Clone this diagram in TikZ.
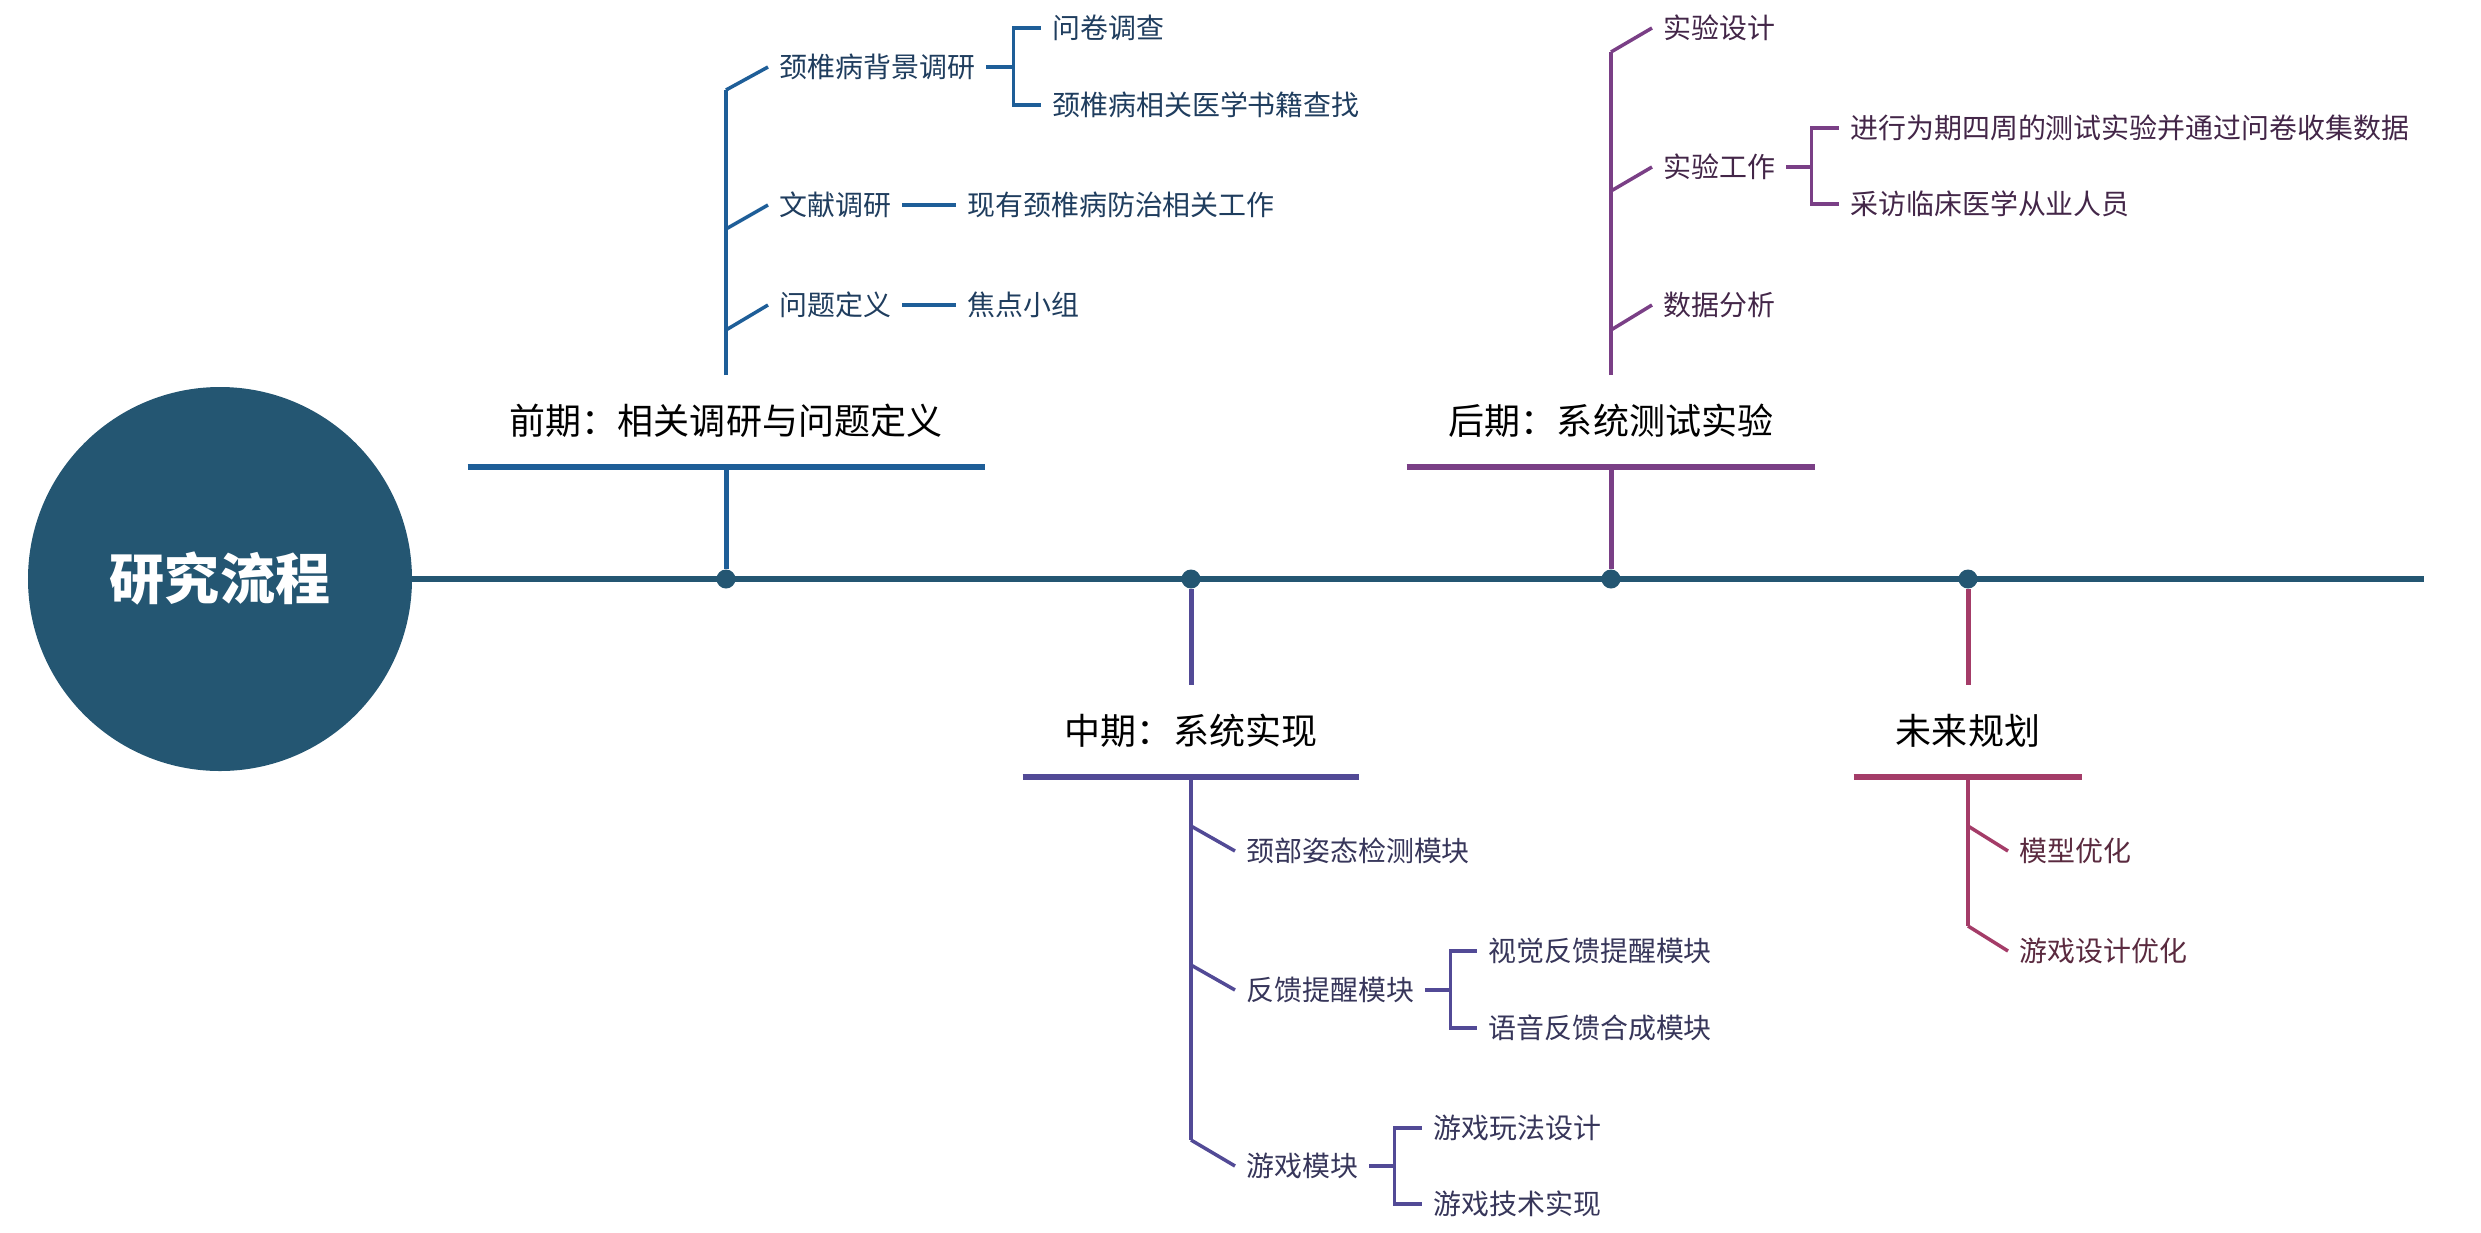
\documentclass[tikz,border=0pt]{standalone}
\usepackage{fontspec}
\setmainfont{Noto Sans CJK SC}

\definecolor{flowbase}{HTML}{245672}
\definecolor{earlyc}{HTML}{1E5E98}
\definecolor{earlyt}{HTML}{1F3D5E}
\definecolor{midc}{HTML}{524A96}
\definecolor{midt}{HTML}{37365A}
\definecolor{latec}{HTML}{7A3F86}
\definecolor{latet}{HTML}{432648}
\definecolor{futc}{HTML}{A43C68}
\definecolor{futt}{HTML}{5A2A3F}

\begin{document}
\begin{tikzpicture}[
    x=0.2mm, y=-0.2mm,
    mainline/.style={line width=1.05mm, draw=flowbase},
    stemline/.style={line width=1mm},
    barline/.style={line width=1.25mm},
    spineline/.style={line width=0.9mm},
    subline/.style={line width=0.7mm},
    joint/.style={circle, fill=flowbase, inner sep=0pt, minimum size=3.8mm},
    phase/.style={font=\fontsize{20.5}{24}\selectfont, inner xsep=8.4mm, inner ysep=0pt, minimum height=18.2mm},
    item/.style={font=\fontsize{15.9}{19}\selectfont, anchor=west, inner xsep=2.2mm, inner ysep=0pt}
    ]

    \useasboundingbox (0,0) rectangle (2481,1232);

    \node[circle, fill=flowbase, minimum size=76.8mm, text=white,
          font=\fontsize{31.3}{36}\selectfont\bfseries] (T) at (220,579) {研究流程};
    \coordinate (E) at (2424,579);
    \draw[mainline] (T) -- (E);

    \node[joint] (D1) at (726,579) {};
    \node[joint] (D2) at (1191,579) {};
    \node[joint] (D3) at (1611,579) {};
    \node[joint] (D4) at (1968,579) {};

    % early phase
    \node[phase] (P1) at (726,421) {前期：相关调研与问题定义};
    \coordinate (S1a) at (726,90);
    \coordinate (S1b) at (726,229);
    \coordinate (S1c) at (726,330);
    \node[item, text=earlyt] (A1) at (768,67) {颈椎病背景调研};
    \node[item, text=earlyt] (A2) at (768,205) {文献调研};
    \node[item, text=earlyt] (A3) at (768,305) {问题定义};
    \node[item, text=earlyt] (A11) at (1041,28) {问卷调查};
    \node[item, text=earlyt] (A12) at (1041,105) {颈椎病相关医学书籍查找};
    \node[item, text=earlyt] (A21) at (956,205) {现有颈椎病防治相关工作};
    \node[item, text=earlyt] (A31) at (956,305) {焦点小组};

    \draw[stemline, earlyc] (D1) -- (P1.south);
    \draw[barline, earlyc] (P1.south west) -- (P1.south east);
    \draw[spineline, earlyc] (P1.north) -- (S1a);
    \draw[subline, earlyc] (S1a) -- (A1.west);
    \draw[subline, earlyc] (S1b) -- (A2.west);
    \draw[subline, earlyc] (S1c) -- (A3.west);
    \draw[subline, earlyc] (A1.east) -- ++(27,0) |- (A11.west);
    \draw[subline, earlyc] (A1.east) ++(27,0) |- (A12.west);
    \draw[subline, earlyc] (A2.east) -- (A21.west);
    \draw[subline, earlyc] (A3.east) -- (A31.west);

    % middle phase
    \node[phase] (P2) at (1191,731) {中期：系统实现};
    \coordinate (S2a) at (1191,826);
    \coordinate (S2b) at (1191,965);
    \coordinate (S2c) at (1191,1140);
    \node[item, text=midt] (B1) at (1235,851) {颈部姿态检测模块};
    \node[item, text=midt] (B2) at (1235,990) {反馈提醒模块};
    \node[item, text=midt] (B3) at (1235,1166) {游戏模块};
    \node[item, text=midt] (B21) at (1477,951) {视觉反馈提醒模块};
    \node[item, text=midt] (B22) at (1477,1028) {语音反馈合成模块};
    \node[item, text=midt] (B31) at (1422,1128) {游戏玩法设计};
    \node[item, text=midt] (B32) at (1422,1204) {游戏技术实现};

    \draw[stemline, midc] (D2) -- (P2.north);
    \draw[barline, midc] (P2.south west) -- (P2.south east);
    \draw[spineline, midc] (P2.south) -- (S2c);
    \draw[subline, midc] (S2a) -- (B1.west);
    \draw[subline, midc] (S2b) -- (B2.west);
    \draw[subline, midc] (S2c) -- (B3.west);
    \draw[subline, midc] (B2.east) -- ++(25,0) |- (B21.west);
    \draw[subline, midc] (B2.east) ++(25,0) |- (B22.west);
    \draw[subline, midc] (B3.east) -- ++(25,0) |- (B31.west);
    \draw[subline, midc] (B3.east) ++(25,0) |- (B32.west);

    % late phase
    \node[phase] (P3) at (1611,421) {后期：系统测试实验};
    \coordinate (S3a) at (1611,52);
    \coordinate (S3b) at (1611,191);
    \coordinate (S3c) at (1611,330);
    \node[item, text=latet] (C1) at (1652,28) {实验设计};
    \node[item, text=latet] (C2) at (1652,167) {实验工作};
    \node[item, text=latet] (C3) at (1652,305) {数据分析};
    \node[item, text=latet] (C21) at (1839,128) {进行为期四周的测试实验并通过问卷收集数据};
    \node[item, text=latet] (C22) at (1839,204) {采访临床医学从业人员};

    \draw[stemline, latec] (D3) -- (P3.south);
    \draw[barline, latec] (P3.south west) -- (P3.south east);
    \draw[spineline, latec] (P3.north) -- (S3a);
    \draw[subline, latec] (S3a) -- (C1.west);
    \draw[subline, latec] (S3b) -- (C2.west);
    \draw[subline, latec] (S3c) -- (C3.west);
    \draw[subline, latec] (C2.east) -- ++(25,0) |- (C21.west);
    \draw[subline, latec] (C2.east) ++(25,0) |- (C22.west);

    % future
    \node[phase] (P4) at (1968,731) {未来规划};
    \coordinate (S4a) at (1968,826);
    \coordinate (S4b) at (1968,926);
    \node[item, text=futt] (F1) at (2008,851) {模型优化};
    \node[item, text=futt] (F2) at (2008,951) {游戏设计优化};

    \draw[stemline, futc] (D4) -- (P4.north);
    \draw[barline, futc] (P4.south west) -- (P4.south east);
    \draw[spineline, futc] (P4.south) -- (S4b);
    \draw[subline, futc] (S4a) -- (F1.west);
    \draw[subline, futc] (S4b) -- (F2.west);

\end{tikzpicture}
\end{document}
